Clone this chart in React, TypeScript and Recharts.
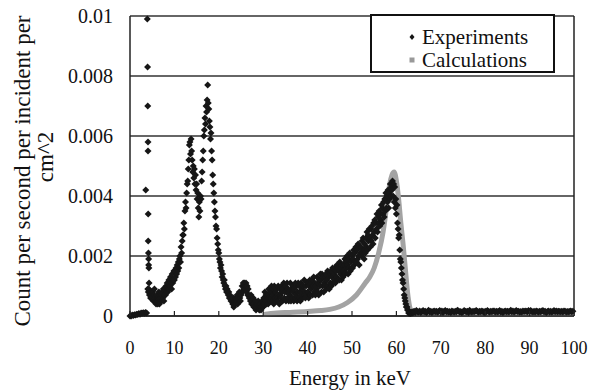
import { ComposedChart, XAxis, YAxis, CartesianGrid, Line, Scatter, ReferenceLine } from "recharts";

const SERIF = '"Liberation Serif", "Times New Roman", serif';

const energyTicks = [0, 10, 20, 30, 40, 50, 60, 70, 80, 90, 100];
const countTicks = [0, 0.002, 0.004, 0.006, 0.008, 0.01];

// measured spectrum, one row per keV; channels sit evenly across each row
const experimentRows: number[][] = [
  [0, 0, 0.00003, 0.00002],
  [0.00004, 0.00003, 0.00006, 0.00005],
  [0.00008, 0.00006, 0.0001, 0.00009],
  [0.00011, 0.00009, 0.00012, 0.0001],
  [0.0009, 0.0008, 0.0009, 0.0007, 0.0008, 0.0006, 0.0007, 0.0008],
  [0.0006, 0.0008, 0.0005, 0.0007, 0.0009, 0.0005, 0.0006, 0.0004],
  [0.0005, 0.0007, 0.0004, 0.0006, 0.0008, 0.0004, 0.0006, 0.0005],
  [0.0007, 0.0005, 0.0008, 0.0006, 0.0009, 0.0005, 0.0007, 0.0009],
  [0.0007, 0.001, 0.0008, 0.0011, 0.0008, 0.0009, 0.0012, 0.0009],
  [0.001, 0.0013, 0.0011, 0.0009, 0.0014, 0.0011, 0.0012, 0.0015],
  [0.0012, 0.0015, 0.0013, 0.0016, 0.0014, 0.0017, 0.0015, 0.0018],
  [0.0016, 0.0019, 0.002, 0.0018, 0.0023, 0.0021, 0.0025, 0.0027],
  [0.0027, 0.0031, 0.0029, 0.0035, 0.0038, 0.0036, 0.0041, 0.0044],
  [0.0045, 0.0049, 0.0052, 0.0057, 0.0058, 0.0054, 0.0059, 0.0055],
  [0.0052, 0.0048, 0.005, 0.0046, 0.0049, 0.0044, 0.0047, 0.0042],
  [0.0044, 0.0039, 0.0041, 0.0036, 0.0033, 0.0038, 0.0035, 0.004],
  [0.0039, 0.0045, 0.0048, 0.0052, 0.0055, 0.006, 0.0062, 0.0066],
  [0.0064, 0.007, 0.0068, 0.0072, 0.0077, 0.0071, 0.0069, 0.0065],
  [0.0063, 0.0059, 0.0061, 0.0055, 0.0052, 0.0047, 0.0044, 0.0041],
  [0.0038, 0.0035, 0.0033, 0.003, 0.0029, 0.0026, 0.0024, 0.0022],
  [0.0021, 0.0019, 0.0018, 0.0016, 0.0017, 0.0015, 0.0013, 0.0014],
  [0.0012, 0.0011, 0.0012, 0.001, 0.0009, 0.001, 0.0008, 0.0009],
  [0.0008, 0.0007, 0.0008, 0.0006, 0.0007, 0.0006, 0.0005, 0.0006],
  [0.0005, 0.0004, 0.0006, 0.0003, 0.0004, 0.0005, 0.0004, 0.0006],
  [0.0005, 0.0007, 0.0004, 0.0006, 0.0005, 0.0008, 0.0006, 0.0005],
  [0.0007, 0.0008, 0.001, 0.0008, 0.0011, 0.0009, 0.0011, 0.001],
  [0.0009, 0.0011, 0.0008, 0.001, 0.0007, 0.0009, 0.0007, 0.0006],
  [0.0006, 0.0005, 0.0007, 0.0004, 0.0005, 0.0004, 0.0006, 0.0003],
  [0.0004, 0.0003, 0.0005, 0.0002, 0.0003, 0.0004, 0.0003, 0.0005],
  [0.0003, 0.0002, 0.0004, 0.0003, 0.0002, 0.0003, 0.0005, 0.0003],
  [0.0003, 0.0006, 0.0004, 0.0008, 0.0005, 0.0007, 0.0004, 0.0006],
  [0.0007, 0.0004, 0.0009, 0.0006, 0.0005, 0.0008, 0.0006, 0.001],
  [0.0005, 0.0009, 0.0007, 0.0004, 0.001, 0.0006, 0.0008, 0.0005],
  [0.0009, 0.0006, 0.0005, 0.001, 0.0007, 0.0004, 0.0009, 0.0007],
  [0.0006, 0.001, 0.0008, 0.0005, 0.0009, 0.0011, 0.0006, 0.0008],
  [0.001, 0.0005, 0.0008, 0.0011, 0.0006, 0.0009, 0.0005, 0.0008],
  [0.0007, 0.0011, 0.0005, 0.0009, 0.0006, 0.001, 0.0008, 0.0005],
  [0.0009, 0.0006, 0.0011, 0.0007, 0.001, 0.0005, 0.0008, 0.0011],
  [0.0006, 0.001, 0.0008, 0.0005, 0.0011, 0.0007, 0.0009, 0.0006],
  [0.001, 0.0007, 0.0012, 0.0008, 0.0006, 0.001, 0.0007, 0.0011],
  [0.0008, 0.0011, 0.0006, 0.001, 0.0012, 0.0007, 0.0009, 0.0011],
  [0.0012, 0.0007, 0.001, 0.0013, 0.0008, 0.0011, 0.0007, 0.001],
  [0.0009, 0.0013, 0.0008, 0.0011, 0.0007, 0.0012, 0.001, 0.0014],
  [0.0012, 0.0008, 0.0014, 0.001, 0.0013, 0.0008, 0.0011, 0.0013],
  [0.001, 0.0014, 0.0009, 0.0012, 0.0015, 0.001, 0.0013, 0.0009],
  [0.0014, 0.0011, 0.0015, 0.001, 0.0013, 0.0016, 0.0011, 0.0014],
  [0.0012, 0.0016, 0.0011, 0.0015, 0.0013, 0.0017, 0.0012, 0.0016],
  [0.0015, 0.0012, 0.0018, 0.0014, 0.0016, 0.0012, 0.0017, 0.0015],
  [0.0013, 0.0017, 0.0015, 0.0019, 0.0014, 0.0018, 0.0016, 0.002],
  [0.0017, 0.0014, 0.0019, 0.0016, 0.0021, 0.0015, 0.0018, 0.0016],
  [0.002, 0.0016, 0.0019, 0.0022, 0.0017, 0.0021, 0.0018, 0.0023],
  [0.0018, 0.0022, 0.0019, 0.0024, 0.002, 0.0017, 0.0023, 0.0021],
  [0.0023, 0.002, 0.0025, 0.0021, 0.0026, 0.0022, 0.0019, 0.0024],
  [0.0021, 0.0026, 0.0023, 0.0028, 0.0022, 0.0027, 0.0025, 0.0029],
  [0.0026, 0.0023, 0.0029, 0.0025, 0.003, 0.0027, 0.0024, 0.0031],
  [0.0028, 0.0032, 0.0026, 0.0031, 0.0029, 0.0034, 0.0028, 0.0033],
  [0.0031, 0.0035, 0.003, 0.0034, 0.0032, 0.0037, 0.0031, 0.0036],
  [0.0034, 0.0038, 0.0033, 0.0039, 0.0035, 0.0041, 0.0036, 0.004],
  [0.0038, 0.0042, 0.0036, 0.0041, 0.0039, 0.0044, 0.004, 0.0043],
  [0.0042, 0.0045, 0.004, 0.0044, 0.0038, 0.0043, 0.0036, 0.0039],
  [0.0034, 0.0037, 0.0031, 0.0029, 0.0026, 0.0027, 0.0022, 0.0019],
  [0.0018, 0.0016, 0.0014, 0.0012, 0.0011, 0.0009, 0.0007, 0.0006],
  [0.0005, 0.0004, 0.0003, 0.0003, 0.0002, 0.0002, 0.0001, 0.0001],
  [0.0001, 0.00008, 0.00012, 0.0001, 0.00013, 0.00011, 0.00014, 0.00012],
  [0.00016, 0.00012, 0.00018, 0.00014],
  [0.00013, 0.00017, 0.00012, 0.00015],
  [0.00018, 0.00014, 0.00016, 0.00012],
  [0.00015, 0.00019, 0.00013, 0.00016],
  [0.00012, 0.00015, 0.00017, 0.00014],
  [0.00016, 0.00013, 0.00015, 0.00018],
  [0.00014, 0.00017, 0.00012, 0.00016],
  [0.00018, 0.00014, 0.00016, 0.00013],
  [0.00015, 0.00012, 0.00017, 0.00015],
  [0.00013, 0.00016, 0.00014, 0.00019],
  [0.00017, 0.00013, 0.00015, 0.00012],
  [0.00014, 0.00018, 0.00016, 0.00014],
  [0.00016, 0.00012, 0.00019, 0.00015],
  [0.00013, 0.00016, 0.00014, 0.00017],
  [0.00018, 0.00015, 0.00013, 0.00016],
  [0.00014, 0.00017, 0.00015, 0.00012],
  [0.00016, 0.00014, 0.00018, 0.00015],
  [0.00013, 0.00016, 0.00014, 0.00017],
  [0.00017, 0.00013, 0.00016, 0.00014],
  [0.00015, 0.00018, 0.00013, 0.00016],
  [0.00012, 0.00015, 0.00017, 0.00014],
  [0.00016, 0.00014, 0.00015, 0.00019],
  [0.00014, 0.00017, 0.00013, 0.00016],
  [0.00018, 0.00015, 0.00016, 0.00013],
  [0.00015, 0.00013, 0.00017, 0.00015],
  [0.00017, 0.00016, 0.00014, 0.00018],
  [0.00014, 0.00018, 0.00015, 0.00013],
  [0.00016, 0.00013, 0.00017, 0.00015],
  [0.00013, 0.00016, 0.00014, 0.00017],
  [0.00018, 0.00014, 0.00016, 0.00012],
  [0.00015, 0.00017, 0.00013, 0.00016],
  [0.00013, 0.00015, 0.00018, 0.00014],
  [0.00017, 0.00014, 0.00016, 0.00015],
  [0.00014, 0.00016, 0.00013, 0.00017],
  [0.00016, 0.00013, 0.00015, 0.00014],
  [0.00015, 0.00017, 0.00014, 0.00016],
];

// the sharp line just under 4 keV
const edgeKev = [3.9, 3.95, 4.0, 4.05, 4.05, 3.55, 4.1, 4.1, 4.15, 4.2, 4.2, 4.25, 4.3];
const edgeCounts = [0.0099, 0.0083, 0.007, 0.0058, 0.0055, 0.0042, 0.0034, 0.0025, 0.0021, 0.0019, 0.0017, 0.0016, 0.0011];

// simulated spectrum
const calcKev = [30, 33, 36, 40, 43, 45, 47, 49, 51, 53, 54, 55, 56, 57, 57.5, 58, 58.5, 59, 59.5, 60, 60.5, 61, 61.5, 62, 62.5, 63, 63.5, 64, 70, 80, 90, 100];
const calcCounts = [0.00005, 0.0001, 0.00012, 0.00015, 0.00018, 0.00022, 0.0003, 0.00045, 0.0007, 0.0011, 0.0013, 0.0016, 0.0021, 0.0028, 0.0033, 0.0039, 0.0044, 0.0047, 0.0048, 0.0045, 0.0039, 0.0031, 0.0024, 0.0016, 0.0008, 0.0003, 0.00012, 0.00007, 0.00007, 0.00007, 0.00007, 0.00007];

const experimentPoints = [
  ...edgeKev.map((kev, i) => ({ kev, count: edgeCounts[i] })),
  ...experimentRows.flatMap((row, k) => row.map((count, j) => ({ kev: k + j / row.length, count }))),
];
const calculationPoints = calcKev.map((kev, i) => ({ kev, count: calcCounts[i] }));

const Marker = (props: any) => {
  const { cx, cy } = props;
  if (cx == null || cy == null) return null;
  const r = 3.5;
  return <path d={`M${cx - r},${cy}L${cx},${cy - r}L${cx + r},${cy}L${cx},${cy + r}Z`} fill="#161616" />;
};

const XTick = (props: any) => {
  const { x, y, payload } = props;
  return (
    <g>
      <line x1={x} y1={y} x2={x} y2={y - 5} stroke="#222" strokeWidth={1.2} />
      <text x={x} y={y + 38} textAnchor="middle" fontFamily={SERIF} fontSize={18} fill="#111">
        {payload.value}
      </text>
    </g>
  );
};

const YTick = (props: any) => {
  const { x, y, payload } = props;
  return (
    <text x={x - 17} y={y} dy="0.35em" textAnchor="end" fontFamily={SERIF} fontSize={20} fill="#111">
      {String(payload.value)}
    </text>
  );
};

const YTitle = () => (
  <g fontFamily={SERIF} fontSize={23} fill="#111">
    <text transform="translate(22,171) rotate(-90)" textAnchor="middle" dominantBaseline="central">
      Count per second per incident per
    </text>
    <text transform="translate(45,157) rotate(-90)" textAnchor="middle" dominantBaseline="central">
      cm^2
    </text>
  </g>
);

const XTitle = () => (
  <text x={350} y={385} textAnchor="middle" fontFamily={SERIF} fontSize={21} fill="#111">
    Energy in keV
  </text>
);

// legend sits over the top-right corner of the plot
const LegendBox = () => (
  <div
    style={{
      position: "absolute",
      left: 370,
      top: 14,
      boxSizing: "border-box",
      width: 185,
      height: 59,
      border: "2px solid #111",
      background: "#fff",
      fontFamily: SERIF,
      fontSize: 21,
      color: "#111",
    }}
  >
    <svg width={10} height={60} style={{ position: "absolute", left: 35, top: 0 }}>
      <path d="M5,18L7.5,21L5,24L2.5,21Z" fill="#161616" />
      <rect x={2.5} y={41.5} width={5} height={5} fill="#999" />
    </svg>
    <div style={{ position: "absolute", left: 50, top: 10, lineHeight: "22px", whiteSpace: "nowrap" }}>Experiments</div>
    <div style={{ position: "absolute", left: 50, top: 33, lineHeight: "22px", whiteSpace: "nowrap" }}>Calculations</div>
  </div>
);

export default function App() {
  return (
    <div style={{ position: "fixed", left: 0, top: 0, width: 590, height: 390, background: "#fff" }}>
      <ComposedChart width={590} height={390} margin={{ top: 16, right: 16, bottom: 0, left: 0 }}>
        <CartesianGrid vertical={false} stroke="#333" strokeWidth={1.5} />
        <XAxis
          type="number"
          dataKey="kev"
          domain={[0, 100]}
          ticks={energyTicks}
          height={74}
          tickSize={0}
          tickMargin={0}
          tickLine={false}
          tick={<XTick />}
          axisLine={{ stroke: "#222", strokeWidth: 1.5 }}
          label={{ content: XTitle }}
        />
        <YAxis
          type="number"
          dataKey="count"
          domain={[0, 0.01]}
          ticks={countTicks}
          width={130}
          tickSize={0}
          tickMargin={0}
          tickLine={false}
          tick={<YTick />}
          axisLine={{ stroke: "#222", strokeWidth: 1.5 }}
          label={{ content: YTitle }}
        />
        <ReferenceLine x={100} stroke="#222" strokeWidth={1.5} />
        <Line
          data={calculationPoints}
          dataKey="count"
          type="monotone"
          stroke="#a3a3a3"
          strokeWidth={5}
          dot={false}
          isAnimationActive={false}
          name="Calculations"
        />
        <Scatter data={experimentPoints} dataKey="count" shape={<Marker />} isAnimationActive={false} name="Experiments" />
      </ComposedChart>
      <LegendBox />
    </div>
  );
}
